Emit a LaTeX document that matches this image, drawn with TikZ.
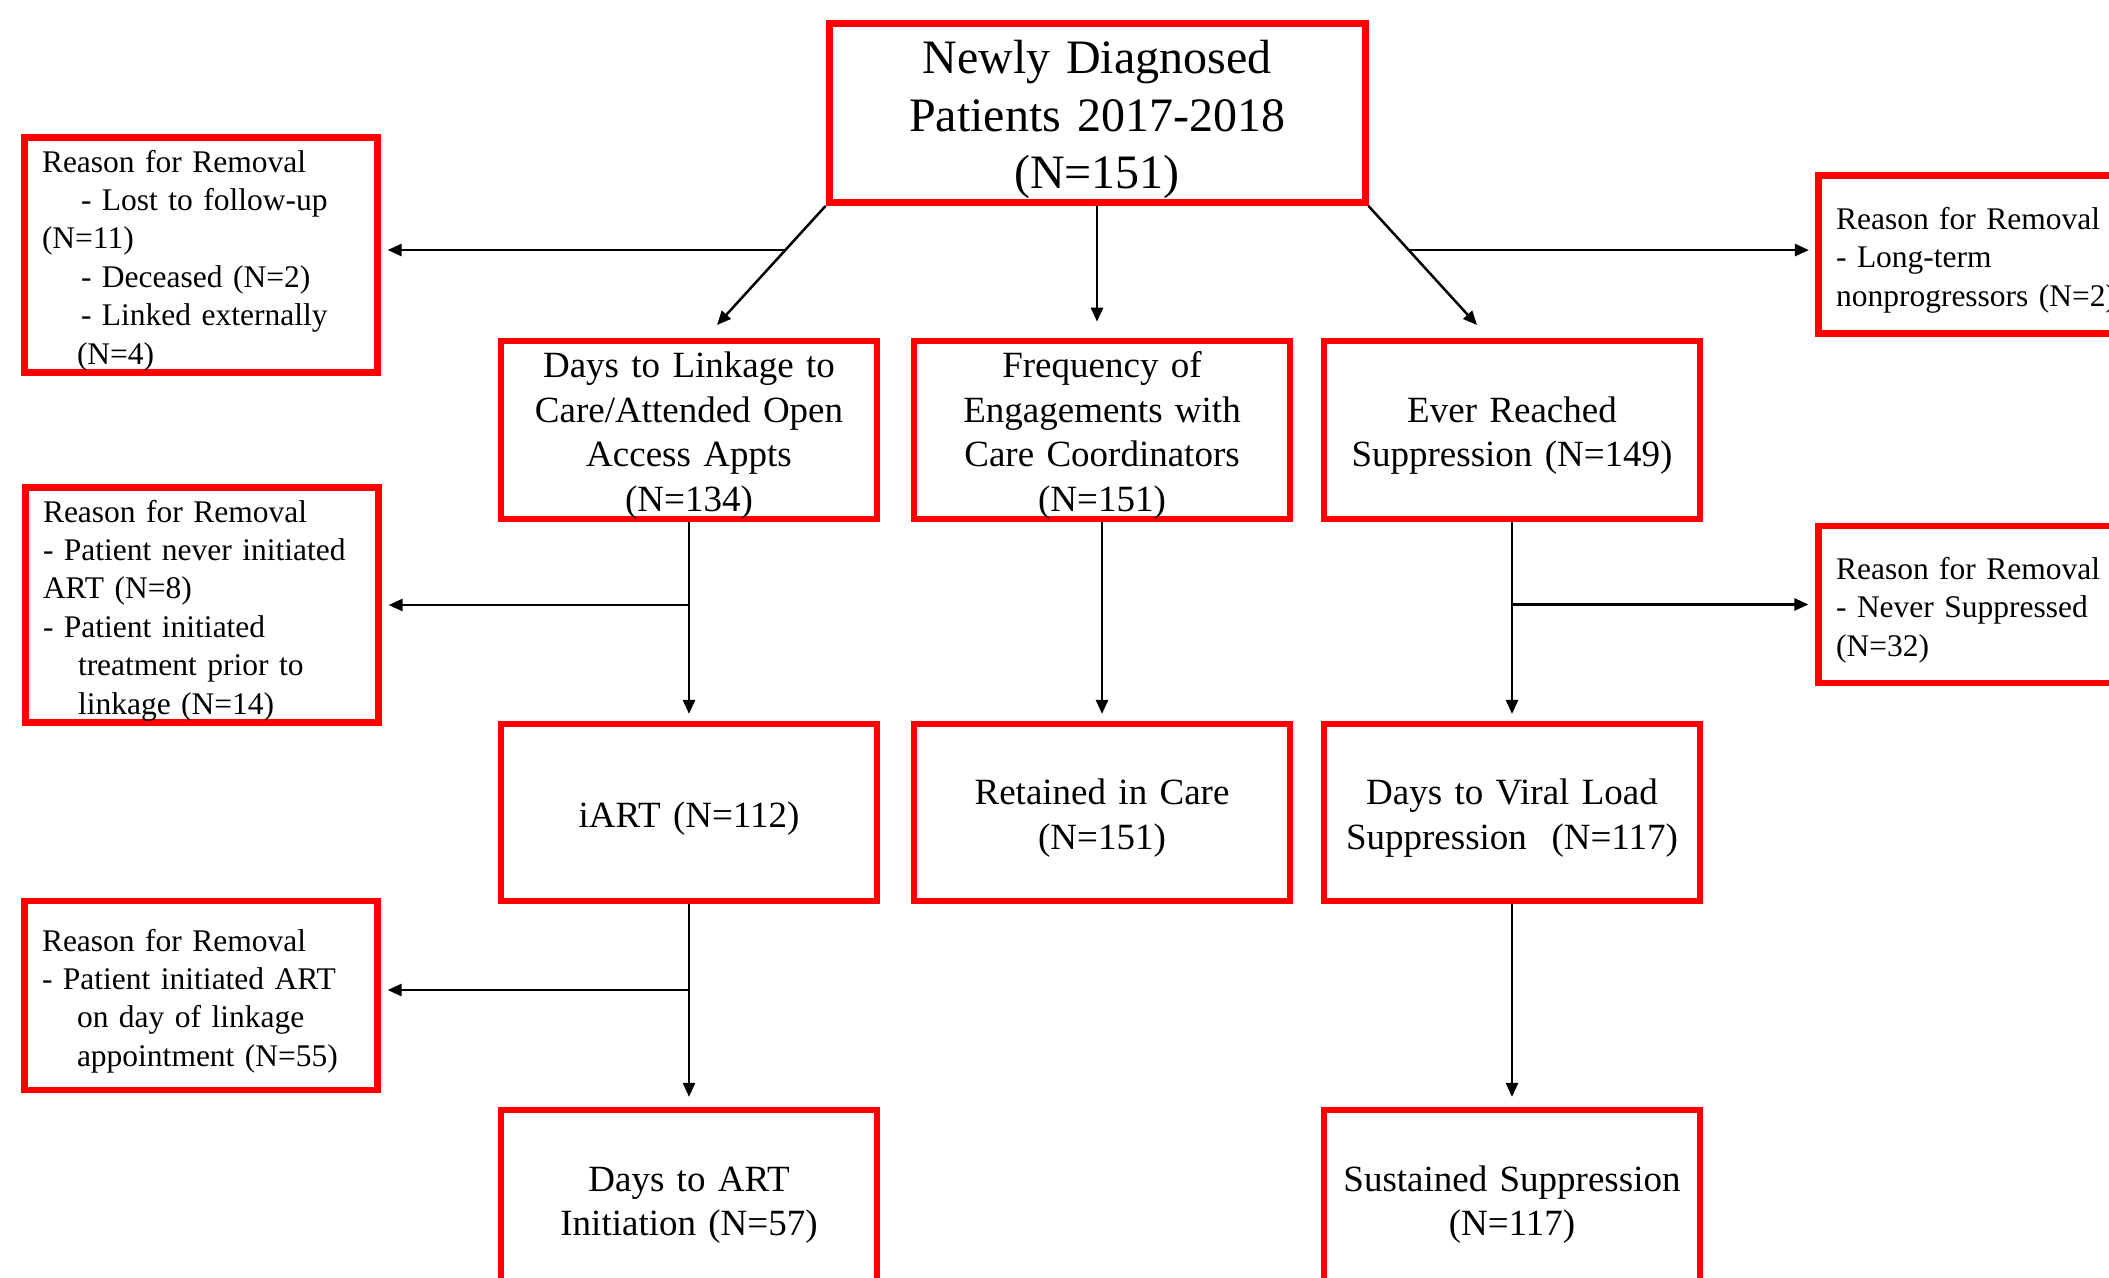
\documentclass[tikz,border=0pt]{standalone}
\usepackage{fontspec}
\setmainfont{Liberation Serif}
\usetikzlibrary{arrows.meta,calc,backgrounds}
\begin{document}
\begin{tikzpicture}[x=1pt,y=-1pt,
  box/.style={draw=red, line width=6.2pt, rectangle, inner sep=0pt, align=center},
  topbox/.style={box, line width=7pt, text width=520pt, minimum width=536pt, minimum height=179pt,
    font=\fontsize{48}{57.5}\selectfont, execute at begin node={\rule{0pt}{47pt}}},
  midbox/.style={box, text width=370pt, minimum width=376pt, minimum height=178pt,
    font=\fontsize{37}{44.5}\selectfont, execute at begin node={\rule{0pt}{37pt}}},
  sidebox/.style={box, align=left, text width=318pt, minimum width=353pt,
    font=\fontsize{31.5}{38.4}\selectfont, execute at begin node={\rule{0pt}{33pt}}},
  arr/.style={black, line width=2.5pt, -{Triangle[length=14pt,width=12pt]}}]
\useasboundingbox (0,0) rectangle (2109,1277);
\clip (0,0) rectangle (2109,1277);

\node[topbox] (top) at (1097,113) {Newly Diagnosed\\Patients 2017-2018\\(N=151)};

\node[midbox] (A) at (689,430) {Days to Linkage to\\Care/Attended Open\\Access Appts\\(N=134)};
\node[midbox] (B) at (1102,430) {Frequency of\\Engagements with\\Care Coordinators\\(N=151)};
\node[midbox] (C) at (1512,430) {Ever Reached\\Suppression (N=149)};

\node[midbox, minimum height=177pt] (A3) at (689,812.5) {iART (N=112)};
\node[midbox, minimum height=177pt] (B3) at (1102,812.5) {Retained in Care\\(N=151)};
\node[midbox, minimum height=177pt] (C3) at (1512,812.5) {Days to Viral Load\\Suppression\ \ (N=117)};

\node[midbox] (A4) at (689,1199) {Days to ART\\Initiation (N=57)};
\node[midbox] (C4) at (1512,1199) {Sustained Suppression\\(N=117)};

\node[sidebox, minimum height=235pt] (L1) at (201,255) {Reason for Removal\\
\hspace*{39pt}- Lost to follow-up\\
(N=11)\\
\hspace*{39pt}- Deceased (N=2)\\
\hspace*{39pt}- Linked externally\\
\hspace*{35pt}(N=4)};

\node[sidebox, minimum height=235pt] (L2) at (202,605) {Reason for Removal\\
- Patient never initiated\\
ART (N=8)\\
- Patient initiated\\
\hspace*{35pt}treatment prior to\\
\hspace*{35pt}linkage (N=14)};

\node[sidebox, minimum height=189pt] (L3) at (201,995.5) {Reason for Removal\\
- Patient initiated ART\\
\hspace*{35pt}on day of linkage\\
\hspace*{35pt}appointment (N=55)};

\node[sidebox, minimum height=158pt] (R1) at (1995,254.5) {Reason for Removal\\
- Long-term\\
nonprogressors (N=2)};

\node[sidebox, minimum height=157pt] (R2) at (1995,604.5) {Reason for Removal\\
- Never Suppressed\\
(N=32)};

\coordinate (t1) at (717,325);
\coordinate (t3) at (1477,325);
\coordinate (b3) at (689,990);

\begin{pgfonlayer}{background}
\draw[arr] (top.south west) -- (t1);
\draw[arr] (top.south east) -- (t3);
\coordinate (d1) at ($(top.south west)!0.37!(t1)$);
\coordinate (d3) at ($(top.south east)!0.37!(t3)$);
\draw[arr, shorten >=7pt] (d1) -- (d1 -| L1.east);
\draw[arr, shorten >=6.5pt] (d3) -- (d3 -| R1.west);
\draw[arr, shorten >=16pt] (top.south) -- (top.south |- B.north);

\draw[arr, shorten >=7pt] (A.south) -- (A.south |- A3.north);
\draw[arr, shorten >=7pt] (B.south) -- (B.south |- B3.north);
\draw[arr, shorten >=7pt] (C.south) -- (C.south |- C3.north);
\draw[arr, shorten >=7pt] (A.south |- L2.east) -- (L2.east);
\draw[arr, shorten >=7pt] (C.south |- R2.west) -- (R2.west);

\draw[arr, shorten >=10pt] (A3.south) -- (A3.south |- A4.north);
\draw[arr, shorten >=10pt] (C3.south) -- (C3.south |- C4.north);
\draw[arr, shorten >=7pt] (b3) -- (b3 -| L3.east);
\end{pgfonlayer}
\end{tikzpicture}
\end{document}
